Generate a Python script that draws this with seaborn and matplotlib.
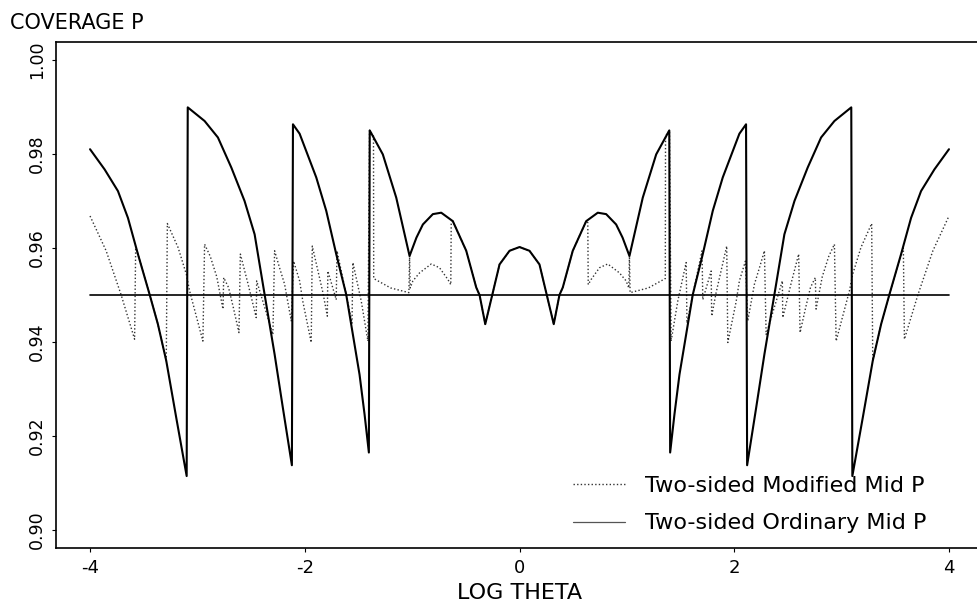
import matplotlib
matplotlib.use("Agg")
from matplotlib import pyplot as plt
from matplotlib.lines import Line2D
import seaborn as sns

# Two-sided Ordinary Mid P (solid curve)
ordinary_x = [-4.000, -3.864, -3.740, -3.647, -3.554, -3.445, -3.368, -3.290, -3.197, -3.100,
              -3.090, -2.933, -2.809, -2.684, -2.561, -2.467, -2.374, -2.281, -2.204, -2.120,
              -2.110, -2.048, -1.893, -1.800, -1.707, -1.614, -1.552, -1.490, -1.443, -1.403,
              -1.395, -1.273, -1.148, -1.024, -0.960, -0.900, -0.807, -0.729, -0.621, -0.496,
              -0.403, -0.372, -0.319, -0.254, -0.186, -0.093, 0.000,
              0.093, 0.186, 0.254, 0.319, 0.372, 0.403, 0.496, 0.621, 0.729, 0.807,
              0.900, 0.960, 1.024, 1.148, 1.273, 1.395,
              1.403, 1.443, 1.490, 1.552, 1.614, 1.707, 1.800, 1.893, 2.048, 2.110,
              2.120, 2.204, 2.281, 2.374, 2.467, 2.561, 2.684, 2.809, 2.933, 3.090,
              3.100, 3.197, 3.290, 3.368, 3.445, 3.554, 3.647, 3.740, 3.864, 4.000]
ordinary_y = [0.9810, 0.9767, 0.9721, 0.9664, 0.9587, 0.9501, 0.9438, 0.9360, 0.9239, 0.9115,
              0.9899, 0.9870, 0.9835, 0.9771, 0.9700, 0.9629, 0.9501, 0.9374, 0.9260, 0.9138,
              0.9863, 0.9843, 0.9750, 0.9679, 0.9587, 0.9501, 0.9416, 0.9331, 0.9246, 0.9165,
              0.9850, 0.9799, 0.9707, 0.9583, 0.9622, 0.9650, 0.9672, 0.9675, 0.9657, 0.9594,
              0.9516, 0.9500, 0.9438, 0.9500, 0.9565, 0.9594, 0.9602,
              0.9594, 0.9565, 0.9500, 0.9438, 0.9500, 0.9516, 0.9594, 0.9657, 0.9675, 0.9672,
              0.9650, 0.9622, 0.9583, 0.9707, 0.9799, 0.9850,
              0.9165, 0.9246, 0.9331, 0.9416, 0.9501, 0.9587, 0.9679, 0.9750, 0.9843, 0.9863,
              0.9138, 0.9260, 0.9374, 0.9501, 0.9629, 0.9700, 0.9771, 0.9835, 0.9870, 0.9899,
              0.9115, 0.9239, 0.9360, 0.9438, 0.9501, 0.9587, 0.9664, 0.9721, 0.9767, 0.9810]

# Two-sided Modified Mid P (dotted curve)
modified_x = [-4.000, -3.850, -3.710, -3.585, -3.575, -3.554, -3.445, -3.368, -3.290,
              -3.280, -3.180, -3.103, -3.073, -2.949, -2.933, -2.880, -2.820, -2.762,
              -2.755, -2.710, -2.665, -2.613, -2.600, -2.530, -2.452, -2.448, -2.297,
              -2.281, -2.235, -2.188, -2.126, -2.104, -2.048, -2.017, -1.940, -1.930,
              -1.831, -1.790, -1.785, -1.707, -1.700, -1.614, -1.560, -1.552, -1.474,
              -1.412, -1.397, -1.360, -1.358, -1.200, -1.030, -1.024, -1.018, -0.993,
              -0.931, -0.822, -0.745, -0.667, -0.640, -0.636, -0.621, -0.496, -0.403,
              -0.372, -0.319, -0.254, -0.186, -0.093, 0.000,
              0.093, 0.186, 0.254, 0.319, 0.372, 0.403, 0.496, 0.621, 0.636, 0.640,
              0.667, 0.745, 0.822, 0.931, 0.993, 1.018, 1.024, 1.030, 1.200, 1.358,
              1.360, 1.397, 1.412, 1.474, 1.552, 1.560, 1.614, 1.700, 1.707, 1.785,
              1.790, 1.831, 1.930, 1.940, 2.017, 2.048, 2.104, 2.126, 2.188, 2.235,
              2.281, 2.297, 2.448, 2.452, 2.530, 2.600, 2.613, 2.665, 2.710, 2.755,
              2.762, 2.820, 2.880, 2.933, 2.949, 3.073, 3.103, 3.180, 3.280, 3.290,
              3.368, 3.445, 3.554, 3.575, 3.585, 3.710, 3.850, 4.000]
modified_y = [0.9668, 0.9594, 0.9500, 0.9406, 0.9600, 0.9587, 0.9501, 0.9438, 0.9360,
              0.9652, 0.9601, 0.9544, 0.9509, 0.9402, 0.9608, 0.9582, 0.9539, 0.9470,
              0.9537, 0.9516, 0.9473, 0.9420, 0.9587, 0.9525, 0.9452, 0.9530, 0.9416,
              0.9594, 0.9558, 0.9523, 0.9445, 0.9572, 0.9530, 0.9485, 0.9399, 0.9604,
              0.9505, 0.9455, 0.9551, 0.9490, 0.9594, 0.9501, 0.9440, 0.9569, 0.9487,
              0.9402, 0.9850, 0.9838, 0.9535, 0.9515, 0.9505, 0.9583, 0.9515, 0.9530,
              0.9547, 0.9566, 0.9558, 0.9533, 0.9522, 0.9654, 0.9657, 0.9594, 0.9516,
              0.9500, 0.9438, 0.9500, 0.9565, 0.9594, 0.9602,
              0.9594, 0.9565, 0.9500, 0.9438, 0.9500, 0.9516, 0.9594, 0.9657, 0.9654, 0.9522,
              0.9533, 0.9558, 0.9566, 0.9547, 0.9530, 0.9515, 0.9583, 0.9505, 0.9515, 0.9535,
              0.9838, 0.9850, 0.9402, 0.9487, 0.9569, 0.9440, 0.9501, 0.9594, 0.9490, 0.9551,
              0.9455, 0.9505, 0.9604, 0.9399, 0.9485, 0.9530, 0.9572, 0.9445, 0.9523, 0.9558,
              0.9594, 0.9416, 0.9530, 0.9452, 0.9525, 0.9587, 0.9420, 0.9473, 0.9516, 0.9537,
              0.9470, 0.9539, 0.9582, 0.9608, 0.9402, 0.9509, 0.9544, 0.9601, 0.9652, 0.9360,
              0.9438, 0.9501, 0.9587, 0.9600, 0.9406, 0.9500, 0.9594, 0.9668]

# nominal level
nominal_x = [-4.0, 4.0]
nominal_y = [0.95, 0.95]

x_ticks = [-4, -2, 0, 2, 4]
y_ticks = [0.90, 0.92, 0.94, 0.96, 0.98, 1.00]
y_tick_labels = ['0.90', '0.92', '0.94', '0.96', '0.98', '1.00']
legend_labels = ['Two-sided Modified Mid P', 'Two-sided Ordinary Mid P']

sns.set_style('ticks')
plt.rcParams['font.family'] = ['DejaVu Sans']
plt.rcParams['axes.unicode_minus'] = False
plt.rcParams['text.color'] = 'black'
plt.rcParams['axes.labelcolor'] = 'black'
plt.rcParams['xtick.color'] = 'black'
plt.rcParams['ytick.color'] = 'black'

fig = plt.figure(figsize=(9.77, 6.07), dpi=100)
ax = fig.add_axes([56 / 977, 1 - 548 / 607, 921 / 977, 506 / 607])

sns.lineplot(x=modified_x, y=modified_y, sort=False, estimator=None, ax=ax,
             color='#333333', linewidth=1.0, linestyle=(0, (1, 1.6)))
sns.lineplot(x=nominal_x, y=nominal_y, sort=False, estimator=None, ax=ax,
             color='black', linewidth=1.2)
sns.lineplot(x=ordinary_x, y=ordinary_y, sort=False, estimator=None, ax=ax,
             color='black', linewidth=1.5)

ax.set_xlim(-4.317, 4.261)
ax.set_ylim(0.8962, 1.0038)
ax.set_xticks(x_ticks)
ax.set_xticklabels([str(t) for t in x_ticks], fontsize=13)
ax.set_yticks(y_ticks)
ax.set_yticklabels(y_tick_labels, fontsize=12.5, rotation=90, va='center')
ax.tick_params(axis='both', direction='out', length=3, width=0.8,
               color='black', labelcolor='black')
ax.tick_params(axis='x', pad=5)
ax.tick_params(axis='y', pad=4)

for side in ['left', 'top', 'bottom']:
    ax.spines[side].set_color('black')
    ax.spines[side].set_linewidth(1.2)
ax.spines['right'].set_visible(False)

ax.set_xlabel('LOG THETA', fontsize=16, color='black')
ax.xaxis.set_label_coords(464 / 921, -35 / 506)
ax.set_ylabel('COVERAGE P', fontsize=15, rotation=0, ha='left', va='top', color='black')
ax.yaxis.set_label_coords(-46 / 921, 535 / 506)

handles = [Line2D([], [], color='#333333', linewidth=1.0, linestyle=(0, (1, 1.6))),
           Line2D([], [], color='#555555', linewidth=0.9)]
leg = ax.legend(handles=handles, labels=legend_labels, loc='upper left',
                bbox_to_anchor=(573 / 977, 1 - 476 / 607), bbox_transform=fig.transFigure,
                frameon=False, fontsize=16, handlelength=2.35, handletextpad=0.9,
                labelspacing=0.78, borderpad=0, borderaxespad=0)
for txt in leg.get_texts():
    txt.set_color('black')

fig.savefig('out.png', dpi=100)
